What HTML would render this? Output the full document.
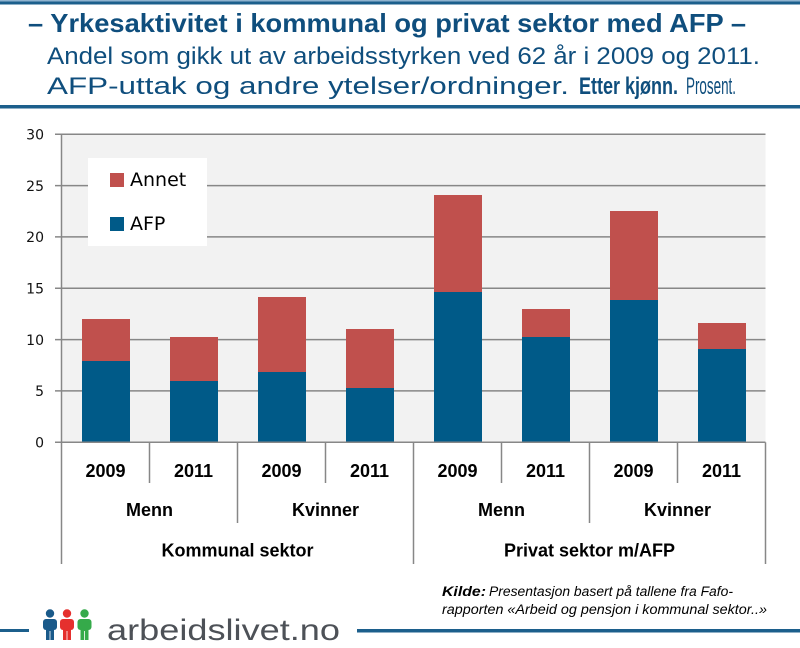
<!DOCTYPE html>
<html><head><meta charset="utf-8"><style>
html,body{margin:0;padding:0;background:#fff;}
svg{display:block;}
</style></head><body>
<svg width="800" height="648" viewBox="0 0 800 648" xmlns="http://www.w3.org/2000/svg">
<rect x="0" y="0" width="800" height="648" fill="#fff"/>
<!-- header -->
<rect x="0" y="0" width="800" height="1.5" fill="#8fb3cf"/>
<rect x="0" y="1.5" width="800" height="3" fill="#1c5f8c"/>
<rect x="0" y="105" width="800" height="3.5" fill="#1c5f8c"/>
<g font-family="Liberation Sans, sans-serif" fill="#0f4e7d">
<text x="28" y="32" font-size="26" font-weight="bold" textLength="718" lengthAdjust="spacingAndGlyphs">– Yrkesaktivitet i kommunal og privat sektor med AFP –</text>
<text x="47" y="64" font-size="24" textLength="713" lengthAdjust="spacingAndGlyphs">Andel som gikk ut av arbeidsstyrken ved 62 år i 2009 og 2011.</text>
<text x="47" y="94" font-size="24" textLength="522" lengthAdjust="spacingAndGlyphs">AFP-uttak og andre ytelser/ordninger.</text>
<text x="579" y="94" font-size="24" font-weight="bold" textLength="99" lengthAdjust="spacingAndGlyphs">Etter kjønn.</text>
<text x="686" y="94" font-size="24" textLength="50" lengthAdjust="spacingAndGlyphs">Prosent.</text>
</g>
<!-- plot area -->
<rect x="61.5" y="134.3" width="704" height="308" fill="#f2f2f2"/>
<g stroke="#878787" stroke-width="1.5">
<line x1="55" y1="134.3" x2="765.5" y2="134.3"/>
<line x1="55" y1="185.6" x2="765.5" y2="185.6"/>
<line x1="55" y1="236.9" x2="765.5" y2="236.9"/>
<line x1="55" y1="288.3" x2="765.5" y2="288.3"/>
<line x1="55" y1="339.6" x2="765.5" y2="339.6"/>
<line x1="55" y1="390.9" x2="765.5" y2="390.9"/>
</g>
<!-- bars -->
<g>
<rect x="82" y="319" width="48" height="42" fill="#c0504d"/>
<rect x="82" y="361" width="48" height="81.3" fill="#005a88"/>
<rect x="170" y="337" width="48" height="44" fill="#c0504d"/>
<rect x="170" y="381" width="48" height="61.3" fill="#005a88"/>
<rect x="258" y="297" width="48" height="75" fill="#c0504d"/>
<rect x="258" y="372" width="48" height="70.3" fill="#005a88"/>
<rect x="346" y="329" width="48" height="59" fill="#c0504d"/>
<rect x="346" y="388" width="48" height="54.3" fill="#005a88"/>
<rect x="434" y="195" width="48" height="97" fill="#c0504d"/>
<rect x="434" y="292" width="48" height="150.3" fill="#005a88"/>
<rect x="522" y="309" width="48" height="28" fill="#c0504d"/>
<rect x="522" y="337" width="48" height="105.3" fill="#005a88"/>
<rect x="610" y="211" width="48" height="89" fill="#c0504d"/>
<rect x="610" y="300" width="48" height="142.3" fill="#005a88"/>
<rect x="698" y="323" width="48" height="26" fill="#c0504d"/>
<rect x="698" y="349" width="48" height="93.3" fill="#005a88"/>
</g>
<!-- axes -->
<g stroke="#878787" stroke-width="1.5">
<line x1="61.5" y1="134.3" x2="61.5" y2="564"/>
<line x1="55" y1="442.3" x2="765.5" y2="442.3"/>
<line x1="149.5" y1="442.3" x2="149.5" y2="483"/>
<line x1="325.5" y1="442.3" x2="325.5" y2="483"/>
<line x1="501.5" y1="442.3" x2="501.5" y2="483"/>
<line x1="677.5" y1="442.3" x2="677.5" y2="483"/>
<line x1="237.5" y1="442.3" x2="237.5" y2="523"/>
<line x1="589.5" y1="442.3" x2="589.5" y2="523"/>
<line x1="413.5" y1="442.3" x2="413.5" y2="564"/>
<line x1="765.5" y1="442.3" x2="765.5" y2="564"/>
</g>
<!-- y labels -->
<g font-family="DejaVu Sans, sans-serif" font-size="14" fill="#111" text-anchor="end">
<text x="44" y="139.5">30</text>
<text x="44" y="190.8">25</text>
<text x="44" y="242.1">20</text>
<text x="44" y="293.5">15</text>
<text x="44" y="344.8">10</text>
<text x="44" y="396.1">5</text>
<text x="44" y="447.5">0</text>
</g>
<!-- x labels -->
<g font-family="Liberation Sans, sans-serif" font-size="18" font-weight="bold" fill="#000" text-anchor="middle">
<text x="105.5" y="477">2009</text>
<text x="193.5" y="477">2011</text>
<text x="281.5" y="477">2009</text>
<text x="369.5" y="477">2011</text>
<text x="457.5" y="477">2009</text>
<text x="545.5" y="477">2011</text>
<text x="633.5" y="477">2009</text>
<text x="721.5" y="477">2011</text>
<text x="149.5" y="516">Menn</text>
<text x="325.5" y="516">Kvinner</text>
<text x="501.5" y="516">Menn</text>
<text x="677.5" y="516">Kvinner</text>
<text x="237.5" y="556.5">Kommunal sektor</text>
<text x="589.5" y="556.5">Privat sektor m/AFP</text>
</g>
<!-- legend -->
<rect x="88" y="158" width="119" height="88" fill="#fff"/>
<rect x="110" y="173" width="14" height="14" fill="#c0504d"/>
<rect x="110" y="217" width="14" height="14" fill="#005a88"/>
<g font-family="DejaVu Sans, sans-serif" font-size="19" fill="#000">
<text x="130" y="186">Annet</text>
<text x="130" y="230">AFP</text>
</g>
<!-- source -->
<g font-family="Liberation Sans, sans-serif" font-size="13.5" font-style="italic" fill="#000">
<text x="442" y="596" font-weight="bold" textLength="44" lengthAdjust="spacingAndGlyphs">Kilde:</text>
<text x="489" y="596" textLength="244" lengthAdjust="spacingAndGlyphs">Presentasjon basert på tallene fra Fafo-</text>
<text x="442" y="614" textLength="325" lengthAdjust="spacingAndGlyphs">rapporten «Arbeid og pensjon i kommunal sektor..»</text>
</g>
<!-- footer -->
<rect x="0" y="629" width="29" height="3" fill="#1c5f8c"/>
<rect x="357" y="629" width="443" height="3.5" fill="#1c5f8c"/>
<g>
<circle cx="50" cy="613.5" r="4.2" fill="#1a5a8a"/>
<rect x="43" y="619" width="14" height="11" rx="3" fill="#1a5a8a"/>
<rect x="46" y="628" width="8" height="12" fill="#1a5a8a"/>
<rect x="49.6" y="631" width="0.8" height="9" fill="#fff"/>
<circle cx="67" cy="613.5" r="4.2" fill="#e5302e"/>
<rect x="60" y="619" width="14" height="11" rx="3" fill="#e5302e"/>
<rect x="63" y="628" width="8" height="12" fill="#e5302e"/>
<rect x="66.6" y="631" width="0.8" height="9" fill="#fff"/>
<circle cx="84.5" cy="613.5" r="4.2" fill="#35aa4a"/>
<rect x="77.5" y="619" width="14" height="11" rx="3" fill="#35aa4a"/>
<rect x="80.5" y="628" width="8" height="12" fill="#35aa4a"/>
<rect x="84.1" y="631" width="0.8" height="9" fill="#fff"/>
</g>
<text x="107" y="640" font-family="Liberation Sans, sans-serif" font-size="30" fill="#4d5157" textLength="233" lengthAdjust="spacingAndGlyphs">arbeidslivet.no</text>
</svg>
</body></html>
